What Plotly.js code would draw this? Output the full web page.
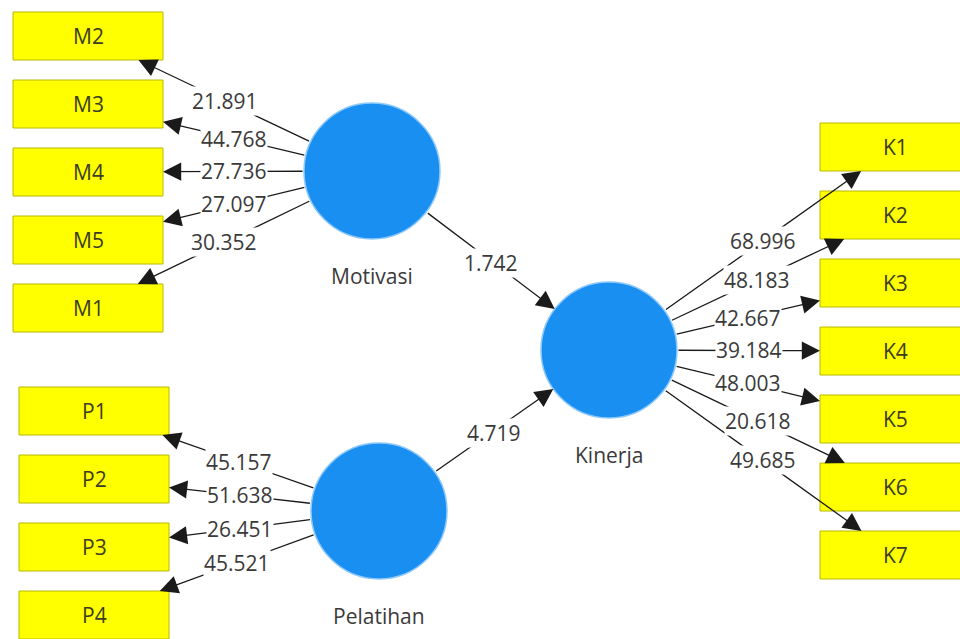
<!DOCTYPE html>
<html>
<head>
<meta charset="utf-8">
<script src="https://cdn.plot.ly/plotly-3.0.1.min.js"></script>
<style>html,body{margin:0;padding:0;background:#fff;}#chart{width:960px;height:639px;}</style>
</head>
<body>
<div id="chart"></div>
<script>
// ---- data ----
var latentNames = ["Motivasi", "Pelatihan", "Kinerja"];
var motivasiIndicators = ["M2", "M3", "M4", "M5", "M1"];
var motivasiLoadings = ["21.891", "44.768", "27.736", "27.097", "30.352"];
var pelatihanIndicators = ["P1", "P2", "P3", "P4"];
var pelatihanLoadings = ["45.157", "51.638", "26.451", "45.521"];
var kinerjaIndicators = ["K1", "K2", "K3", "K4", "K5", "K6", "K7"];
var kinerjaLoadings = ["68.996", "48.183", "42.667", "39.184", "48.003", "20.618", "49.685"];
var pathFrom = ["Motivasi", "Pelatihan"];
var pathTo = ["Kinerja", "Kinerja"];
var pathCoefficients = ["1.742", "4.719"];

// ---- diagram geometry (layout, not data) ----
var geom = {
  radius: 68,
  latent: { Motivasi: [372, 171], Pelatihan: [379, 511], Kinerja: [609, 350] },
  boxW: 150, boxH: 48, boxStep: 68,
  groups: [
    { latent: "Motivasi", names: motivasiIndicators, vals: motivasiLoadings, x0: 13, yc0: 36 },
    { latent: "Pelatihan", names: pelatihanIndicators, vals: pelatihanLoadings, x0: 19, yc0: 411 },
    { latent: "Kinerja", names: kinerjaIndicators, vals: kinerjaLoadings, x0: 820, yc0: 147 }
  ]
};
var style = {
  blue: "#1a8ff2", yellow: "#ffff00", boxLine: "#b8b800",
  text: "#3a3a3a", line: "#1a1a1a", font: "Open Sans, Noto Sans, sans-serif"
};

var shapes = [], annotations = [];
var labelAnn = [];

function clipBox(cx, cy, dx, dy, hw, hh) {
  var tx = dx !== 0 ? hw / Math.abs(dx) : Infinity;
  var ty = dy !== 0 ? hh / Math.abs(dy) : Infinity;
  var t = Math.min(tx, ty);
  return [cx + dx * t, cy + dy * t];
}

function addArrow(tail, tip) {
  annotations.push({
    x: tip[0], y: tip[1], ax: tail[0], ay: tail[1],
    xref: "x", yref: "y", axref: "x", ayref: "y",
    text: "", showarrow: true, arrowhead: 2, arrowsize: 2.8, arrowwidth: 1.3,
    arrowcolor: style.line, standoff: 0, startstandoff: 0
  });
}
function addLabel(x, y, txt) {
  labelAnn.push({
    x: x, y: y, xref: "x", yref: "y", text: txt, showarrow: false,
    bgcolor: "#ffffff", borderpad: 0,
    font: { family: style.font, size: 21, color: style.text }
  });
}

// indicator boxes and loadings
geom.groups.forEach(function (g) {
  var c = geom.latent[g.latent];
  g.names.forEach(function (name, i) {
    var bx = g.x0 + geom.boxW / 2, by = g.yc0 + i * geom.boxStep;
    shapes.push({
      type: "rect", xref: "x", yref: "y",
      x0: g.x0, x1: g.x0 + geom.boxW, y0: by - geom.boxH / 2, y1: by + geom.boxH / 2,
      fillcolor: style.yellow, line: { color: style.boxLine, width: 1 }, layer: "below"
    });
    annotations.push({
      x: bx, y: by, xref: "x", yref: "y", text: name, showarrow: false,
      font: { family: style.font, size: 21, color: "#3c3c20" }
    });
    var dx = bx - c[0], dy = by - c[1], L = Math.sqrt(dx * dx + dy * dy);
    var start = [c[0] + geom.radius * dx / L, c[1] + geom.radius * dy / L];
    var tip = clipBox(bx, by, -dx, -dy, geom.boxW / 2, geom.boxH / 2);
    addArrow(start, tip);
    addLabel((start[0] + tip[0]) / 2, (start[1] + tip[1]) / 2, g.vals[i]);
  });
});

// structural paths
pathFrom.forEach(function (f, i) {
  var a = geom.latent[f], b = geom.latent[pathTo[i]];
  var dx = b[0] - a[0], dy = b[1] - a[1], L = Math.sqrt(dx * dx + dy * dy);
  var s = [a[0] + geom.radius * dx / L, a[1] + geom.radius * dy / L];
  var e = [b[0] - geom.radius * dx / L, b[1] - geom.radius * dy / L];
  addArrow(s, e);
  addLabel((s[0] + e[0]) / 2, (s[1] + e[1]) / 2 + 2, pathCoefficients[i]);
});

// latent circles and names
latentNames.forEach(function (n) {
  var c = geom.latent[n], r = geom.radius;
  shapes.push({
    type: "circle", xref: "x", yref: "y",
    x0: c[0] - r, x1: c[0] + r, y0: c[1] - r, y1: c[1] + r,
    fillcolor: style.blue, line: { color: "#8cc8f8", width: 1.5 }, layer: "above"
  });
  annotations.push({
    x: c[0], y: c[1] + 105, xref: "x", yref: "y", text: n, showarrow: false,
    font: { family: style.font, size: 21, color: style.text }
  });
});

annotations = annotations.concat(labelAnn);

var trace = {
  x: latentNames.map(function (n) { return geom.latent[n][0]; }),
  y: latentNames.map(function (n) { return geom.latent[n][1]; }),
  mode: "markers", type: "scatter", hoverinfo: "skip",
  marker: { size: 1, color: "rgba(0,0,0,0)" }, showlegend: false
};

var layout = {
  width: 960, height: 639,
  margin: { l: 0, r: 0, t: 0, b: 0 },
  paper_bgcolor: "#ffffff", plot_bgcolor: "#ffffff",
  xaxis: { range: [0, 960], visible: false, fixedrange: true },
  yaxis: { range: [639, 0], visible: false, fixedrange: true },
  shapes: shapes, annotations: annotations, showlegend: false
};

Plotly.newPlot("chart", [trace], layout, { displayModeBar: false, staticPlot: true });
</script>
</body>
</html>
